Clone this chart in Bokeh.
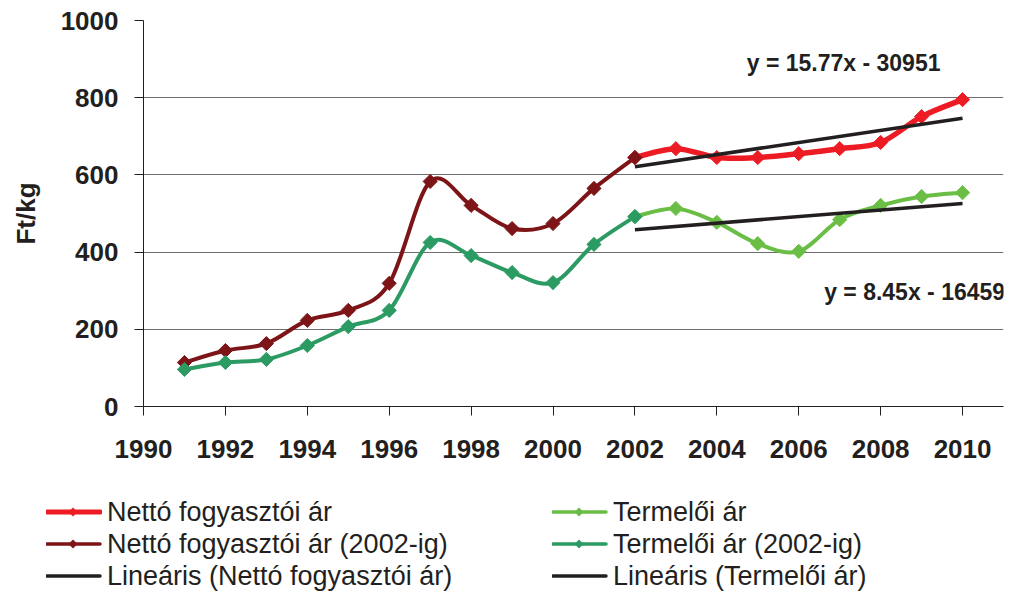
import numpy as np
from bokeh.plotting import figure
from bokeh.models import Range1d, FixedTicker, Label, ColumnDataSource, Div
from bokeh.layouts import column
from bokeh.embed import file_html
from bokeh.resources import INLINE

# ---------------- data ----------------
years_pre = [1991, 1992, 1993, 1994, 1995, 1996, 1997, 1998, 1999, 2000, 2001, 2002]
netto_pre = [114, 145, 163, 223, 249, 319, 583, 521, 461, 474, 565, 645]
termelo_pre = [96, 114, 122, 158, 207, 249, 425, 391, 347, 321, 420, 492]

years_post = [2002, 2003, 2004, 2005, 2006, 2007, 2008, 2009, 2010]
netto_post = [645, 668, 645, 645, 655, 668, 684, 751, 795]
termelo_post = [492, 513, 477, 422, 402, 484, 521, 544, 554]

trend_years = [2002, 2010]
trend_netto = [621, 747]
trend_termelo = [458, 526]

x_ticks = [1990, 1992, 1994, 1996, 1998, 2000, 2002, 2004, 2006, 2008, 2010]
y_ticks = [0, 200, 400, 600, 800, 1000]

eq_texts = ["y = 15.77x  - 30951", "y = 8.45x  - 16459"]
eq_pos_x = [2004.73, 2006.62]
eq_pos_y = [891, 296]

legend_labels = ["Nettó fogyasztói ár", "Termelői ár",
                 "Nettó fogyasztói ár (2002-ig)", "Termelői ár (2002-ig)",
                 "Lineáris (Nettó fogyasztói ár)", "Lineáris (Termelői ár)"]

# ---------------- styles ----------------
RED = "#ED1C24"
DRED = "#7D1518"
DGREEN = "#2B9B63"
LGREEN = "#6BBE45"
BLACK = "#231F20"
FONT = "Liberation Sans"


def bezier_source(xs, ys):
    x = np.asarray(xs, float)
    y = np.asarray(ys, float)
    n = len(x)
    xp = np.concatenate([[x[0]], x, [x[-1]]])
    yp = np.concatenate([[y[0]], y, [y[-1]]])
    return ColumnDataSource(dict(
        x0=x[:-1], y0=y[:-1], x1=x[1:], y1=y[1:],
        cx0=x[:-1] + (xp[2:n + 1] - xp[0:n - 1]) / 6.0,
        cy0=y[:-1] + (yp[2:n + 1] - yp[0:n - 1]) / 6.0,
        cx1=x[1:] - (xp[3:n + 2] - xp[1:n]) / 6.0,
        cy1=y[1:] - (yp[3:n + 2] - yp[1:n]) / 6.0,
    ))


p = figure(width=1011, height=470, output_backend="svg", toolbar_location=None,
           x_range=Range1d(1990, 2011), y_range=Range1d(0, 1000),
           min_border_left=143, min_border_right=8, min_border_top=20,
           min_border_bottom=64, margin=(0, 0, 0, 0))
p.outline_line_color = None
p.background_fill_color = "white"

series = [
    (years_post, netto_post, RED, 5.5),
    (years_post, termelo_post, LGREEN, 4),
    (years_pre, netto_pre, DRED, 4),
    (years_pre, termelo_pre, DGREEN, 4),
]
for xs, ys, col, w in series:
    p.bezier(x0="x0", y0="y0", x1="x1", y1="y1", cx0="cx0", cy0="cy0",
             cx1="cx1", cy1="cy1", source=bezier_source(xs, ys),
             line_color=col, line_width=w, line_cap="round")
for xs, ys, col, w in series:
    p.scatter(xs, ys, marker="square", angle=np.pi / 4, size=10,
              fill_color=col, line_color=col)

p.line(trend_years, trend_netto, line_color=BLACK, line_width=3.5)
p.line(trend_years, trend_termelo, line_color=BLACK, line_width=3.5)

for t, ex, ey in zip(eq_texts, eq_pos_x, eq_pos_y):
    p.add_layout(Label(x=ex, y=ey, text=t, text_font=FONT, text_font_size="23px",
                       text_font_style="bold", text_color=BLACK,
                       text_baseline="middle", text_align="left"))

# axes
p.xaxis.ticker = FixedTicker(ticks=x_ticks)
p.yaxis.ticker = FixedTicker(ticks=y_ticks)
for ax in (p.xaxis, p.yaxis):
    ax.major_tick_out = 9
    ax.major_tick_in = 0
    ax.minor_tick_out = 0
    ax.minor_tick_in = 0
    ax.axis_line_color = BLACK
    ax.major_tick_line_color = BLACK
    ax.major_label_text_font = FONT
    ax.major_label_text_font_size = "26px"
    ax.major_label_text_font_style = "bold"
    ax.major_label_text_color = BLACK
p.xaxis.major_label_standoff = 24
p.yaxis.major_label_standoff = 16
p.yaxis.axis_label = "Ft/kg"
p.yaxis.axis_label_text_font = FONT
p.yaxis.axis_label_text_font_size = "26px"
p.yaxis.axis_label_text_font_style = "bold"
p.yaxis.axis_label_text_color = BLACK
p.yaxis.axis_label_standoff = 17
p.xgrid.grid_line_color = None
p.ygrid.ticker = FixedTicker(ticks=y_ticks)
p.ygrid.grid_line_color = "#6E6E6E"
p.ygrid.grid_line_width = 1

# ---------------- legend (HTML, below the chart) ----------------
leg_styles = [(RED, 5, True), (LGREEN, 3.5, True), (DRED, 3.5, True),
              (DGREEN, 3.5, True), (BLACK, 3.5, False), (BLACK, 3.5, False)]
col_left = [46, 552]
row_mid = [42, 74, 106]
parts = []
for i, (lab, (col, w, mk)) in enumerate(zip(legend_labels, leg_styles)):
    cx = col_left[i % 2]
    cy = row_mid[i // 2]
    diamond = ('<polygon points="27,2.5 31.5,7 27,11.5 22.5,7" fill="%s"/>' % col
               if mk else "")
    parts.append(
        '<svg width="56" height="14" style="position:absolute;left:%dpx;top:%dpx">'
        '<line x1="1" y1="7" x2="54" y2="7" stroke="%s" stroke-width="%s" '
        'stroke-linecap="round"/>%s</svg>' % (cx, cy - 7, col, w, diamond))
    parts.append(
        '<div style="position:absolute;left:%dpx;top:%dpx;line-height:32px;'
        'white-space:nowrap">%s</div>' % (cx + 61, cy - 16, lab))
html = ('<div style="position:relative;width:1011px;height:125px;'
        'font-family:\'Liberation Sans\';font-size:27px;color:%s">%s</div>'
        % (BLACK, "".join(parts)))
legend_div = Div(text=html, width=1011, height=125, margin=(0, 0, 0, 0))

layout = column(p, legend_div, spacing=0)
open("out.html", "w").write(file_html(layout, INLINE))
